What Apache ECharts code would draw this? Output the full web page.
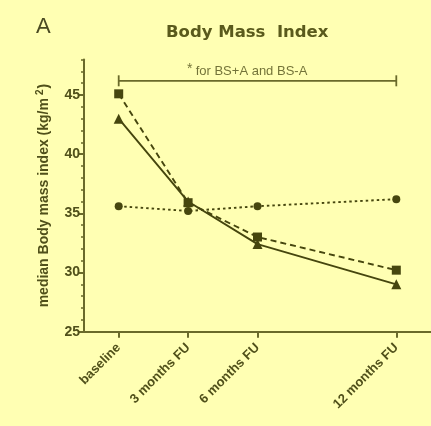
<!DOCTYPE html>
<html>
<head>
<meta charset="utf-8">
<script src="https://cdn.jsdelivr.net/npm/echarts@6/dist/echarts.min.js"></script>
<style>
  html, body { margin: 0; padding: 0; background: #FFFFB3; }
  #chart { width: 431px; height: 426px; }
</style>
</head>
<body>
<div id="chart"></div>
<script>
// Follow-up time points (months after baseline) and their labels
const months = [0, 3, 6, 12];
const timeLabels = ['baseline', '3 months FU', '6 months FU', '12 months FU'];

// Median BMI per group
const bsPlusA = [45.1, 35.9, 33.0, 30.2];   // squares, dashed
const bsMinusA = [43.0, 36.0, 32.4, 29.0];  // triangles, solid
const control = [35.6, 35.2, 35.6, 36.2];   // circles, dotted

// Y axis ticks
const yMajorTicks = [25, 30, 35, 40, 45];
const yMinorTicks = [26, 27, 28, 29, 31, 32, 33, 34, 36, 37, 38, 39, 41, 42, 43, 44, 46, 47, 48];

// Significance bracket
const bracketSpan = [0, 12];
const bracketLevel = 46.2;
const bracketNoteAt = 5.55;
const bracketNote = 'for BS+A and BS-A';

const ink = '#46460E';
const axisInk = '#6A6A2A';
const textInk = '#50501A';
const sans = '"Liberation Sans", Arial, sans-serif';

const pair = (xs, ys) => xs.map((x, i) => [x, ys[i]]);

const chart = echarts.init(document.getElementById('chart'));
chart.setOption({
  backgroundColor: '#FFFFB3',
  animation: false,
  grid: { left: 84, top: 59.5, width: 355.5, height: 272.2 },
  graphic: [
    { type: 'text', left: 36, top: 16,
      style: { text: 'A', font: '22px "Liberation Sans", Arial, sans-serif', fill: '#4A4A22' } },
    { type: 'text', left: 166, top: 24,
      style: { text: 'Body Mass  Index', font: 'bold 16.5px "DejaVu Sans", Verdana, sans-serif', fill: '#5A5A1C' } }
  ],
  xAxis: {
    type: 'value', min: -1.5, max: 13.5,
    splitLine: { show: false },
    axisLine: { onZero: false, lineStyle: { color: axisInk, width: 2 } },
    axisTick: { customValues: months, length: 6, lineStyle: { color: axisInk, width: 2 } },
    axisLabel: {
      customValues: months, rotate: 45, margin: 14,
      formatter: v => timeLabels[months.indexOf(v)],
      fontFamily: sans, fontWeight: 'bold', fontSize: 13, color: textInk
    }
  },
  yAxis: [
    {
      type: 'value', min: 25, max: 48,
      splitLine: { show: false },
      axisLine: { show: true, onZero: false, lineStyle: { color: axisInk, width: 2 } },
      axisTick: { customValues: yMajorTicks, length: 6, lineStyle: { color: axisInk, width: 2 } },
      axisLabel: {
        customValues: yMajorTicks, margin: 4,
        fontFamily: sans, fontWeight: 'bold', fontSize: 14, color: textInk
      },
      name: '{t|median Body mass index (kg/m}{s|2}{t|)}',
      nameLocation: 'middle', nameGap: 31, nameRotate: 90,
      nameTextStyle: {
        rich: {
          t: { fontFamily: sans, fontSize: 14, color: textInk, fontWeight: 'bold' },
          s: { fontFamily: sans, fontSize: 10, color: textInk, fontWeight: 'bold', verticalAlign: 'top', padding: [0, 1, 8, 3] }
        }
      }
    },
    {
      type: 'value', min: 25, max: 48, position: 'left',
      splitLine: { show: false },
      axisLine: { show: false, onZero: false },
      axisLabel: { show: false },
      axisTick: { customValues: yMinorTicks, length: 3, lineStyle: { color: axisInk, width: 1.5 } }
    }
  ],
  series: [
    {
      name: 'BS+A', type: 'line', data: pair(months, bsPlusA),
      symbol: 'rect', symbolSize: 9,
      lineStyle: { color: ink, width: 1.9, type: [6, 4] },
      itemStyle: { color: ink }, z: 3
    },
    {
      name: 'BS-A', type: 'line', data: pair(months, bsMinusA),
      symbol: 'triangle', symbolSize: 10,
      lineStyle: { color: ink, width: 1.9 },
      itemStyle: { color: ink }, z: 2
    },
    {
      name: 'control', type: 'line', data: pair(months, control),
      symbol: 'circle', symbolSize: 8,
      lineStyle: { color: ink, width: 1.9, type: [2.5, 3] },
      itemStyle: { color: ink }, z: 2
    },
    {
      name: 'bracket', type: 'line',
      data: bracketSpan.map(x => [x, bracketLevel]),
      symbol: 'rect', symbolSize: [1.8, 11], showAllSymbol: true,
      lineStyle: { color: axisInk, width: 1.8 },
      itemStyle: { color: axisInk }
    },
    {
      name: 'bracket note', type: 'scatter',
      data: [[bracketNoteAt, bracketLevel]],
      symbolSize: 0, silent: true,
      label: {
        show: true, position: 'top', distance: -1,
        formatter: '{a|*} {b|' + bracketNote + '}',
        rich: {
          a: { fontFamily: sans, fontSize: 14, color: textInk, verticalAlign: 'top', padding: [0, 0, 6, 0] },
          b: { fontFamily: sans, fontSize: 13, color: textInk }
        }
      }
    }
  ]
});
</script>
</body>
</html>
